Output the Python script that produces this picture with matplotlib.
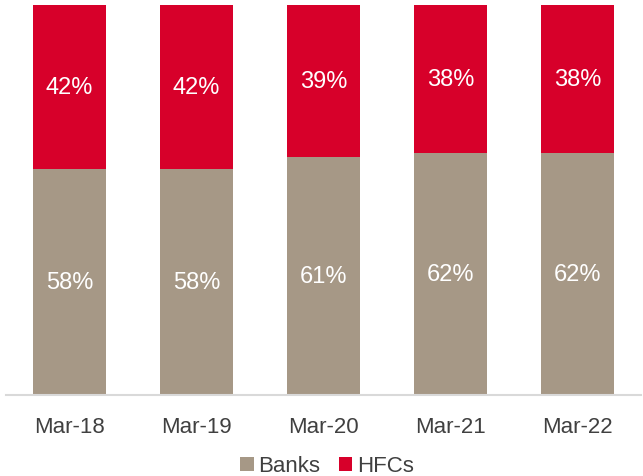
import matplotlib.pyplot as plt
import numpy as np

plt.rcParams['font.family'] = ['Liberation Sans', 'DejaVu Sans']

# data
periods = ["Mar-18", "Mar-19", "Mar-20", "Mar-21", "Mar-22"]
banks = [58, 58, 61, 62, 62]
hfcs = [42, 42, 39, 38, 38]

banks_color = "#A69886"
hfcs_color = "#D7002A"

fig = plt.figure(figsize=(6.43, 4.77), dpi=100)
ax = fig.add_axes([6 / 643, 81 / 477, 635 / 643, 390 / 477])

x = np.arange(len(periods))
w = 0.57
b1 = ax.bar(x, banks, width=w, color=banks_color, label="Banks")
b2 = ax.bar(x, hfcs, width=w, bottom=banks, color=hfcs_color, label="HFCs")

for i in range(len(periods)):
    ax.text(x[i], banks[i] / 2, f"{banks[i]}%", ha="center", va="center",
            color="white", fontsize=17)
    ax.text(x[i], banks[i] + hfcs[i] / 2, f"{hfcs[i]}%", ha="center", va="center",
            color="white", fontsize=17)

ax.set_xlim(-0.5, len(periods) - 0.5)
ax.set_ylim(0, 100)
ax.set_yticks([])
ax.set_xticks(x)
ax.set_xticklabels(periods, fontsize=16, color="#404040")
ax.tick_params(axis="x", length=0, pad=15)
for s in ["top", "right", "left"]:
    ax.spines[s].set_visible(False)
ax.spines["bottom"].set_color("#D9D9D9")
ax.spines["bottom"].set_linewidth(1.5)

fig.legend(handles=[b1, b2], loc="center", bbox_to_anchor=(327 / 643, 1 - 467 / 477),
           ncol=2, frameon=False, fontsize=16, handlelength=0.6, handleheight=0.6,
           handletextpad=0.2, columnspacing=0.85, labelcolor="#404040")

fig.savefig("out.png", dpi=100)
